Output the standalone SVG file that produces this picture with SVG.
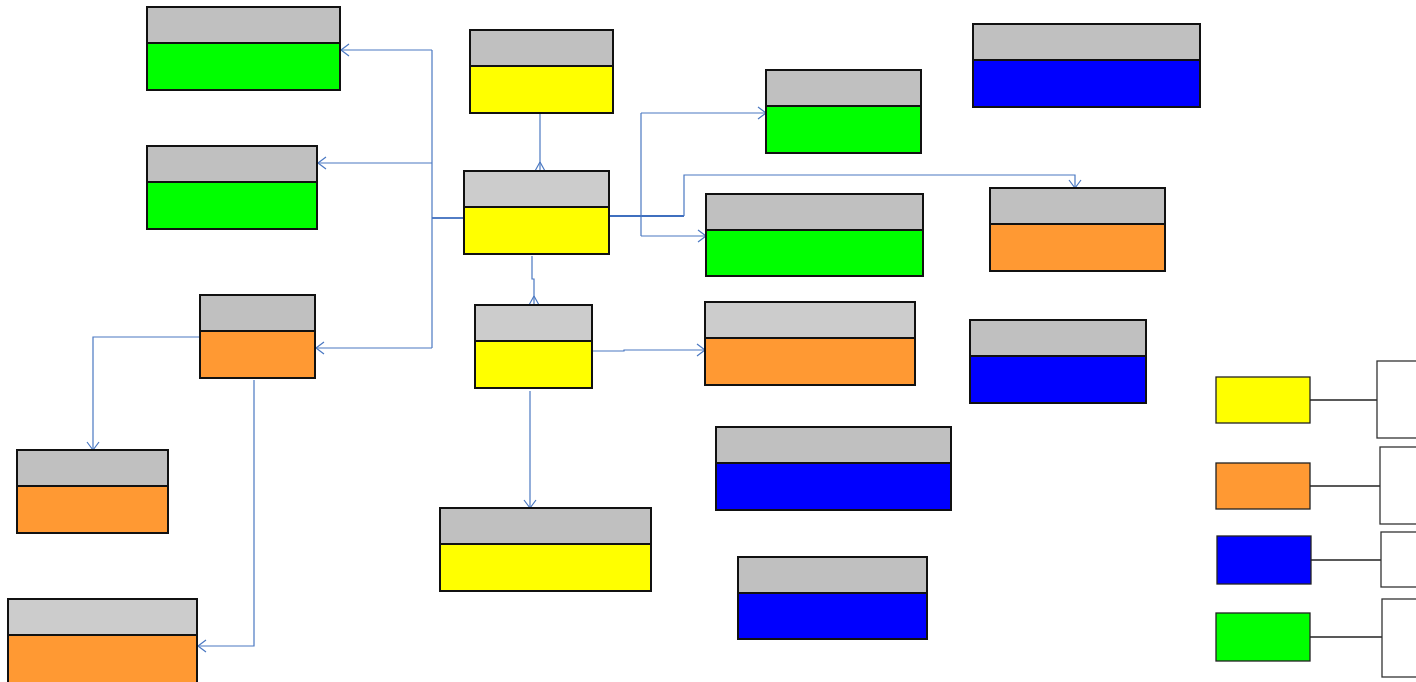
<svg xmlns="http://www.w3.org/2000/svg" width="1416" height="682" viewBox="0 0 1416 682">
  <style>
    .hd { fill: #C0C0C0; stroke: #111; stroke-width: 2; }
    .hl { fill: #CCCCCC; stroke: #111; stroke-width: 2; }
    .y { fill: #FFFF00; stroke: #111; stroke-width: 2; }
    .g { fill: #00FF00; stroke: #111; stroke-width: 2; }
    .b { fill: #0000FF; stroke: #111; stroke-width: 2; }
    .o { fill: #FF9933; stroke: #111; stroke-width: 2; }
    .lk { fill: none; stroke: #4A78C2; stroke-width: 1.2; }
    .lk2 { fill: none; stroke: #3F6FBF; stroke-width: 1.8; }
    .key { fill: none; stroke: #222; stroke-width: 1.3; }
    .kbox { fill: #fff; stroke: #333; stroke-width: 1.3; }
    .ly { fill: #FFFF00; stroke: #222; stroke-width: 1.3; }
    .lo { fill: #FF9933; stroke: #222; stroke-width: 1.3; }
    .lb { fill: #0000FF; stroke: #222; stroke-width: 1.3; }
    .lg { fill: #00FF00; stroke: #222; stroke-width: 1.3; }
  </style>
  <defs>
    <marker id="arr" markerUnits="userSpaceOnUse" markerWidth="14" markerHeight="14" viewBox="-10 -7 12 14" refX="0" refY="0" orient="auto">
      <path d="M-8,-6 L0,0 L-8,6" fill="none" stroke="#4A78C2" stroke-width="1.2"/>
    </marker>
    <marker id="crow" markerUnits="userSpaceOnUse" markerWidth="14" markerHeight="14" viewBox="-12 -7 14 14" refX="0" refY="0" orient="auto">
      <path d="M-9,0 L0,-5 M-9,0 L0,5" fill="none" stroke="#4A78C2" stroke-width="1.2"/>
    </marker>
  </defs>

  <!-- relationship lines -->
  <g id="connectors">
    <path class="lk" d="M540,113 V171" marker-end="url(#crow)"/>
    <path class="lk2" d="M464,218 H432"/>
    <path class="lk" d="M432,50 V348"/>
    <path class="lk" d="M432,50 H341" marker-end="url(#arr)"/>
    <path class="lk" d="M432,163 H318" marker-end="url(#arr)"/>
    <path class="lk" d="M432,348 H316" marker-end="url(#arr)"/>
    <path class="lk2" d="M609,216 H684"/>
    <path class="lk" d="M684,216 V175 H1075 V188" marker-end="url(#arr)"/>
    <path class="lk" d="M641,113 V236"/>
    <path class="lk" d="M641,113 H766" marker-end="url(#arr)"/>
    <path class="lk" d="M641,236 H706" marker-end="url(#arr)"/>
    <path class="lk" d="M532,256 V279 H534 V305" marker-end="url(#crow)"/>
    <path class="lk" d="M592,351 H624 V350 H705" marker-end="url(#arr)"/>
    <path class="lk" d="M530,391 V508" marker-end="url(#arr)"/>
    <path class="lk" d="M200,337 H93 V450" marker-end="url(#arr)"/>
    <path class="lk" d="M254,380 V646 H198" marker-end="url(#arr)"/>
    <!-- key lines -->
    <path class="key" d="M1310,400 H1377"/>
    <path class="key" d="M1310,486 H1380"/>
    <path class="key" d="M1311,560 H1381"/>
    <path class="key" d="M1310,637 H1382"/>
  </g>

  <g id="e1"><rect class="hd" x="147" y="7" width="193" height="36"/><rect class="g" x="147" y="43" width="193" height="47"/></g>
  <g id="e2"><rect class="hd" x="147" y="146" width="170" height="36"/><rect class="g" x="147" y="182" width="170" height="47"/></g>
  <g id="e3"><rect class="hd" x="470" y="30" width="143" height="36"/><rect class="y" x="470" y="66" width="143" height="47"/></g>
  <g id="e4"><rect class="hl" x="464" y="171" width="145" height="36"/><rect class="y" x="464" y="207" width="145" height="47"/></g>
  <g id="e5"><rect class="hl" x="475" y="305" width="117" height="36"/><rect class="y" x="475" y="341" width="117" height="47"/></g>
  <g id="e6"><rect class="hd" x="440" y="508" width="211" height="36"/><rect class="y" x="440" y="544" width="211" height="47"/></g>
  <g id="e7"><rect class="hd" x="766" y="70" width="155" height="36"/><rect class="g" x="766" y="106" width="155" height="47"/></g>
  <g id="e8"><rect class="hd" x="706" y="194" width="217" height="36"/><rect class="g" x="706" y="230" width="217" height="46"/></g>
  <g id="e9"><rect class="hd" x="973" y="24" width="227" height="36"/><rect class="b" x="973" y="60" width="227" height="47"/></g>
  <g id="e10"><rect class="hd" x="990" y="188" width="175" height="36"/><rect class="o" x="990" y="224" width="175" height="47"/></g>
  <g id="e11"><rect class="hl" x="705" y="302" width="210" height="36"/><rect class="o" x="705" y="338" width="210" height="47"/></g>
  <g id="e12"><rect class="hd" x="970" y="320" width="176" height="36"/><rect class="b" x="970" y="356" width="176" height="47"/></g>
  <g id="e13"><rect class="hd" x="716" y="427" width="235" height="36"/><rect class="b" x="716" y="463" width="235" height="47"/></g>
  <g id="e14"><rect class="hd" x="738" y="557" width="189" height="36"/><rect class="b" x="738" y="593" width="189" height="46"/></g>
  <g id="e15"><rect class="hd" x="200" y="295" width="115" height="36"/><rect class="o" x="200" y="331" width="115" height="47"/></g>
  <g id="e16"><rect class="hd" x="17" y="450" width="151" height="36"/><rect class="o" x="17" y="486" width="151" height="47"/></g>
  <g id="e17"><rect class="hl" x="8" y="599" width="189" height="36"/><rect class="o" x="8" y="635" width="189" height="50"/></g>

  <g id="key-yellow"><rect class="ly" x="1216" y="377" width="94" height="46"/><rect class="kbox" x="1377" y="361" width="50" height="77"/></g>
  <g id="key-orange"><rect class="lo" x="1216" y="463" width="94" height="46"/><rect class="kbox" x="1380" y="447" width="50" height="77"/></g>
  <g id="key-blue"><rect class="lb" x="1217" y="536" width="94" height="48"/><rect class="kbox" x="1381" y="532" width="50" height="55"/></g>
  <g id="key-green"><rect class="lg" x="1216" y="613" width="94" height="48"/><rect class="kbox" x="1382" y="599" width="50" height="78"/></g>
</svg>
